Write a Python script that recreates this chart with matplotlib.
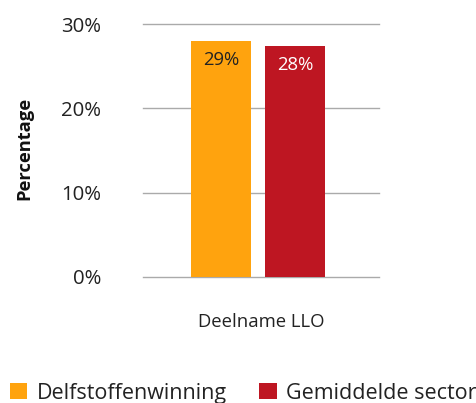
import matplotlib
matplotlib.use("Agg")
import matplotlib.pyplot as plt
from matplotlib.patches import Patch

plt.rcParams['font.family'] = ['Open Sans', 'DejaVu Sans']

categories = ["Deelname LLO"]
series_names = ["Delfstoffenwinning", "Gemiddelde sector"]
values = [28.0, 27.45]
value_labels = ["29%", "28%"]
colors = ["#FFA30E", "#BE1622"]
label_colors = ["#222222", "#FFFFFF"]
yticks = [0, 10, 20, 30]
ytick_labels = ["0%", "10%", "20%", "30%"]

fig = plt.figure(figsize=(4.76, 4.03), dpi=100)
ax = fig.add_axes([143/476, (403-276.7)/403, 236/476, 252.4/403])
ax.set_axisbelow(True)

width = 60/236
offsets = [(221-261)/236, (295-261)/236]
for i, (v, c, lab, lc) in enumerate(zip(values, colors, value_labels, label_colors)):
    ax.bar(offsets[i], v, width=width, color=c, zorder=3)
    ax.text(offsets[i], v - 2.3, lab, ha='center', va='center', color=lc, fontsize=13.3, zorder=4)

ax.set_xlim(-0.5, 0.5)
ax.set_ylim(0, 30)
ax.set_yticks(yticks)
ax.set_yticklabels(ytick_labels, fontsize=14.7, color="#222222")
ax.tick_params(axis='y', length=0, pad=30)
ax.set_xticks([0])
ax.set_xticklabels(categories, fontsize=13.3, color="#222222")
ax.tick_params(axis='x', length=0, pad=26)
ax.grid(axis='y', color="#AAAAAA", linewidth=1, zorder=0)
for gl in ax.get_ygridlines():
    gl.set_clip_on(False)
for s in ax.spines.values():
    s.set_visible(False)

fig.text(24/476, 1 - 148/403, "Percentage", rotation=90, ha='center', va='center',
         fontsize=13.2, fontweight='bold', color="#111111")

handles = [Patch(facecolor=c, edgecolor='none') for c in colors]
fig.legend(handles, series_names, loc='lower left', bbox_to_anchor=(0.012, -0.012), ncol=2,
           frameon=False, fontsize=15.5, handlelength=0.8, handleheight=0.8,
           handletextpad=0.45, columnspacing=1.5, borderaxespad=0, borderpad=0.2,
           labelcolor="#222222")

fig.savefig("out.png", dpi=100)
